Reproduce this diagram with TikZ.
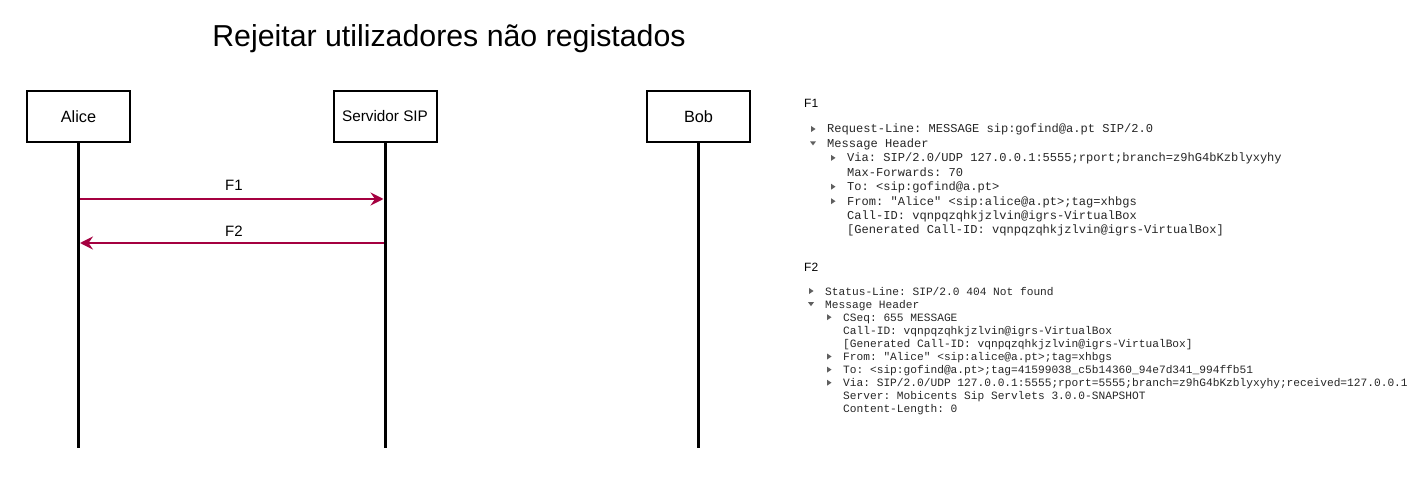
\documentclass[tikz,border=0pt]{standalone}
\usepackage{fontspec}
\setmainfont{Liberation Sans}
\newfontfamily\wsmono{Liberation Mono}
\usetikzlibrary{arrows.meta}
\definecolor{msg}{RGB}{165,0,64}
\definecolor{wstext}{RGB}{38,38,38}
\definecolor{wstri}{RGB}{95,95,95}
\newcommand\wsTriR[2]{\fill[wstri] (#1,#2) ++(-2,-3) -- ++(0,6) -- ++(4.5,-3) -- cycle;}
\newcommand\wsTriD[2]{\fill[wstri] (#1,#2) ++(-3,-2) -- ++(6,0) -- ++(-3,4) -- cycle;}
\frenchspacing
\begin{document}
\begin{tikzpicture}[x=1pt,y=-1pt,
  actor/.style={draw, line width=2pt, minimum width=103pt, minimum height=51pt, inner sep=0pt, font=\fontsize{16.3}{19}\selectfont},
  life/.style={line width=3pt},
  msgline/.style={draw=msg, line width=2pt, shorten >=1.5pt, -{Stealth[length=13pt,width=13pt,inset=4.5pt]}},
  msglabel/.style={font=\fontsize{15}{18}\selectfont, anchor=base, inner sep=0pt},
  flabel/.style={font=\fontsize{12}{14}\selectfont, anchor=base west, inner sep=0pt},
  wsA/.style={anchor=base west, inner sep=0pt, text=wstext, font=\wsmono\frenchspacing\fontsize{12.07}{14}\selectfont},
  wsB/.style={anchor=base west, inner sep=0pt, text=wstext, font=\wsmono\frenchspacing\fontsize{11.2}{13}\selectfont}
]
\useasboundingbox (0,0) rectangle (1425,481);

% title
\node[font=\fontsize{30.3}{36}\selectfont, anchor=base, inner sep=0pt] (title) at (449,47) {Rejeitar utilizadores não registados};

% actors
\node[actor] (alice) at (78.5,116.5) {Alice};
\node[actor, font=\fontsize{15.3}{18}\selectfont] (sip) at (385,116.5) {\raisebox{1.5pt}{Servidor SIP}};
\node[actor] (bob) at (698.5,116.5) {Bob};

\coordinate (aliceEnd) at (78.5,448);
\coordinate (sipEnd) at (385,448);
\coordinate (bobEnd) at (698.5,448);

% messages
\coordinate (f1a) at (78.5,199);
\coordinate (f1b) at (385,199);
\coordinate (f2a) at (385,243);
\coordinate (f2b) at (78.5,243);
\draw[msgline] (f1a) -- (f1b);
\draw[msgline] (f2a) -- (f2b);
\node[msglabel] (lf1) at (234,191) {F1};
\node[msglabel] (lf2) at (234,237) {F2};

% lifelines
\draw[life] (alice.south) -- (aliceEnd);
\draw[life] (sip.south) -- (sipEnd);
\draw[life] (bob.south) -- (bobEnd);

% F1 packet details
\node[flabel] (hf1) at (804,108) {F1};
\wsTriR{813}{129}
\node[wsA] (a1) at (827,133) {Request-Line: MESSAGE sip:gofind@a.pt SIP/2.0};
\wsTriD{813}{143.4}
\node[wsA] (a2) at (827,147.4) {Message Header};
\wsTriR{833}{157.9}
\node[wsA] (a3) at (847,161.9) {Via: SIP/2.0/UDP 127.0.0.1:5555;rport;branch=z9hG4bKzblyxyhy};
\node[wsA] (a4) at (847,176.3) {Max-Forwards: 70};
\wsTriR{833}{186.7}
\node[wsA] (a5) at (847,190.7) {To: <sip:gofind@a.pt>};
\wsTriR{833}{201.2}
\node[wsA] (a6) at (847,205.2) {From: "Alice" <sip:alice@a.pt>;tag=xhbgs};
\node[wsA] (a7) at (847,219.6) {Call-ID: vqnpqzqhkjzlvin@igrs-VirtualBox};
\node[wsA] (a8) at (847,234) {[Generated Call-ID: vqnpqzqhkjzlvin@igrs-VirtualBox]};

% F2 packet details
\node[flabel] (hf2) at (804,272) {F2};
\wsTriR{811}{291}
\node[wsB] (b1) at (825,295) {Status-Line: SIP/2.0 404 Not found};
\wsTriD{811}{304.1}
\node[wsB] (b2) at (825,308.1) {Message Header};
\wsTriR{829}{317.2}
\node[wsB] (b3) at (843,321.2) {CSeq: 655 MESSAGE};
\node[wsB] (b4) at (843,334.3) {Call-ID: vqnpqzqhkjzlvin@igrs-VirtualBox};
\node[wsB] (b5) at (843,347.4) {[Generated Call-ID: vqnpqzqhkjzlvin@igrs-VirtualBox]};
\wsTriR{829}{356.5}
\node[wsB] (b6) at (843,360.5) {From: "Alice" <sip:alice@a.pt>;tag=xhbgs};
\wsTriR{829}{369.6}
\node[wsB] (b7) at (843,373.6) {To: <sip:gofind@a.pt>;tag=41599038\_c5b14360\_94e7d341\_994ffb51};
\wsTriR{829}{382.7}
\node[wsB] (b8) at (843,386.7) {Via: SIP/2.0/UDP 127.0.0.1:5555;rport=5555;branch=z9hG4bKzblyxyhy;received=127.0.0.1};
\node[wsB] (b9) at (843,399.8) {Server: Mobicents Sip Servlets 3.0.0-SNAPSHOT};
\node[wsB] (b10) at (843,412.9) {Content-Length: 0};
\end{tikzpicture}
\end{document}
